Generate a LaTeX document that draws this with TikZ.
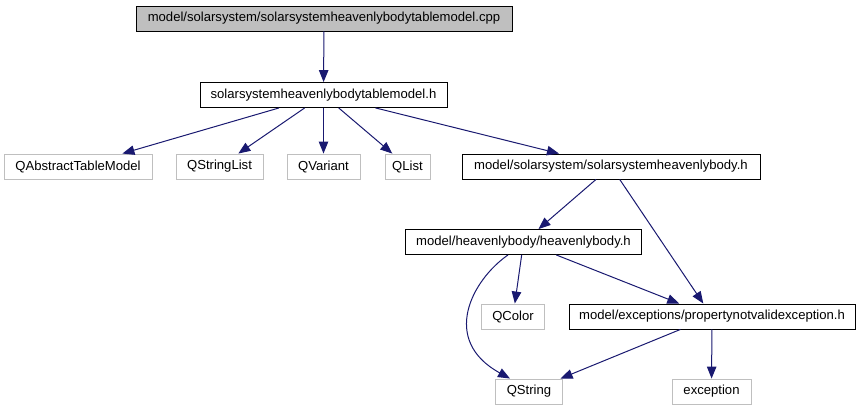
\documentclass[tikz,border=0pt]{standalone}
\usepackage{fontspec}
\setmainfont{Liberation Sans}
\usetikzlibrary{arrows.meta}
\definecolor{edgeblue}{HTML}{191970}
\definecolor{lightbd}{HTML}{BFBFBF}
\tikzset{
  box/.style={draw=black, line width=0.9pt, inner sep=0pt, minimum height=25pt, font=\fontsize{13.1}{15}\selectfont},
  extbox/.style={draw=lightbd, line width=0.9pt, inner sep=0pt, minimum height=25pt, font=\fontsize{13.1}{15}\selectfont},
  rootbox/.style={box, fill=lightbd},
  dep/.style={draw=edgeblue, line width=1pt, -{Triangle[length=12pt,width=9.5pt]}}
}
\begin{document}
\begin{tikzpicture}[x=1pt,y=-1pt]
\useasboundingbox (0,0) rectangle (860,411);
\node[rootbox, minimum width=376pt] (cpp) at (324,18.5) {model/solarsystem/solarsystemheavenlybodytablemodel.cpp};
\node[box, minimum width=247pt] (h) at (323.5,95) {solarsystemheavenlybodytablemodel.h};
\node[extbox, minimum width=148pt] (qatm) at (78,166.5) {QAbstractTableModel};
\node[extbox, minimum width=87pt] (qsl) at (219.5,166.5) {QStringList};
\node[extbox, minimum width=73pt] (qv) at (323.5,166.5) {QVariant};
\node[extbox, minimum width=45pt] (ql) at (407.5,166.5) {QList};
\node[box, minimum width=298pt] (ssh) at (611,166.5) {model/solarsystem/solarsystemheavenlybody.h};
\node[box, minimum width=236pt] (hb) at (523.5,242) {model/heavenlybody/heavenlybody.h};
\node[extbox, minimum width=63pt] (qc) at (513,316.5) {QColor};
\node[box, minimum width=286pt] (pe) at (712,316.5) {model/exceptions/propertynotvalidexception.h};
\node[extbox, minimum width=67pt] (qs) at (529,391.5) {QString};
\node[extbox, minimum width=79pt] (ex) at (711.5,391.5) {exception};

\draw[dep] (cpp) -- (h);
\draw[dep] (h) -- (qatm);
\draw[dep] (h) -- (qsl);
\draw[dep] (h) -- (qv);
\draw[dep] (h) -- (ql);
\draw[dep] (h) -- (ssh);
\draw[dep] (ssh) -- (hb);
\draw[dep] (ssh) -- (pe);
\draw[dep] (hb) -- (qc);
\draw[dep] (hb) -- (pe);
\draw[dep] ([xshift=-15.5pt]hb.south) .. controls (472,280) and (440,340) .. ([xshift=-19pt]qs.north);
\draw[dep] (pe) -- (qs);
\draw[dep] (pe) -- (ex);
\end{tikzpicture}
\end{document}
